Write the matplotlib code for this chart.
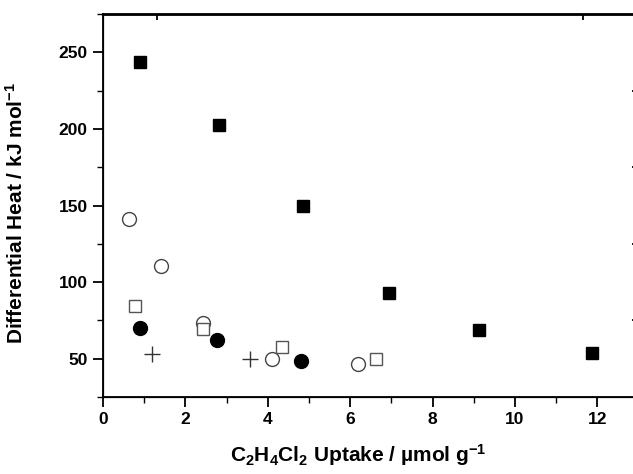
import matplotlib
matplotlib.use('Agg')
import matplotlib.pyplot as plt
from matplotlib.ticker import MultipleLocator, FixedLocator, NullFormatter

plt.rcParams['font.family'] = ['Liberation Sans', 'DejaVu Sans']
plt.rcParams['font.weight'] = 'bold'
plt.rcParams['mathtext.fontset'] = 'custom'
plt.rcParams['mathtext.rm'] = 'Liberation Sans:bold'
plt.rcParams['mathtext.it'] = 'Liberation Sans:bold'
plt.rcParams['mathtext.bf'] = 'Liberation Sans:bold'
plt.rcParams['mathtext.default'] = 'rm'

# data
sq_fill_x = [0.90, 2.82, 4.86, 6.93, 9.13, 11.86]
sq_fill_y = [243.5, 202.8, 149.4, 92.6, 68.6, 53.7]

circ_open_x = [0.63, 1.41, 2.43, 4.11, 6.20]
circ_open_y = [141.1, 110.3, 73.0, 50.0, 46.8]

sq_open_x = [0.77, 2.43, 4.34, 6.62]
sq_open_y = [84.5, 69.1, 57.7, 50.0]

circ_fill_x = [0.90, 2.76, 4.81]
circ_fill_y = [70.3, 62.5, 48.5]

plus_x = [1.18, 3.57]
plus_y = [52.9, 49.6]

fig = plt.figure(figsize=(6.33, 4.74), dpi=100)
ax = fig.add_axes([103 / 633, 77 / 474, 535.6 / 633, 383 / 474])

ax.plot(sq_fill_x, sq_fill_y, 's', ms=9, mfc='black', mec='black', ls='none')
ax.plot(circ_open_x, circ_open_y, 'o', ms=10, mfc='white', mec='#444444', mew=1.0, ls='none')
ax.plot(sq_open_x, sq_open_y, 's', ms=9, mfc='white', mec='#555555', mew=1.0, ls='none')
ax.plot(circ_fill_x, circ_fill_y, 'o', ms=10, mfc='black', mec='black', ls='none')
ax.plot(plus_x, plus_y, '+', ms=11, mec='#333333', mew=1.0, ls='none')

ax.set_xlim(0, 13)
ax.set_ylim(25, 275)

ax.xaxis.set_major_locator(FixedLocator([0, 2, 4, 6, 8, 10, 12]))
ax.xaxis.set_minor_locator(MultipleLocator(1))
ax.yaxis.set_major_locator(FixedLocator([50, 100, 150, 200, 250]))
ax.yaxis.set_minor_locator(MultipleLocator(25))

ax.tick_params(which='major', direction='out', length=7, width=1.3, labelsize=12.5, pad=4,
               top=False, right=False)
ax.tick_params(which='minor', direction='out', length=4, width=1.0, top=False, right=False)

for s in ['left', 'bottom']:
    ax.spines[s].set_linewidth(1.3)
ax.spines['top'].set_linewidth(2.0)
ax.spines['right'].set_linewidth(1.3)

# mirrored axis ticks on the top and right
ax2 = ax.twinx()
ax2.set_ylim(25, 275)
ax2.yaxis.set_major_locator(FixedLocator([75, 125, 175, 225]))
ax2.yaxis.set_minor_locator(FixedLocator([50, 100, 150, 200, 250]))
ax2.yaxis.set_major_formatter(NullFormatter())
ax2.tick_params(which='major', direction='in', length=5, width=1.3)
ax2.tick_params(which='minor', direction='in', length=2, width=1.0)

ax3 = ax.twiny()
ax3.set_xlim(0, 13)
ax3.xaxis.set_major_locator(FixedLocator([1.31, 11.65]))
ax3.xaxis.set_major_formatter(NullFormatter())
ax3.tick_params(which='major', direction='in', length=4, width=1.3)

ax.set_ylabel('Differential Heat / kJ mol$^{-1}$', fontsize=15, fontweight='bold')
ax.yaxis.set_label_coords(-(103 - 27) / 535.6, 0.48)
ax.set_xlabel('C$_2$H$_4$Cl$_2$ Uptake / \u00b5mol g$^{-1}$', fontsize=15, fontweight='bold',
              va='center')
ax.xaxis.set_label_coords((358 - 103) / 535.6, -(455 - 397) / 383)

fig.savefig('out.png', dpi=100)
